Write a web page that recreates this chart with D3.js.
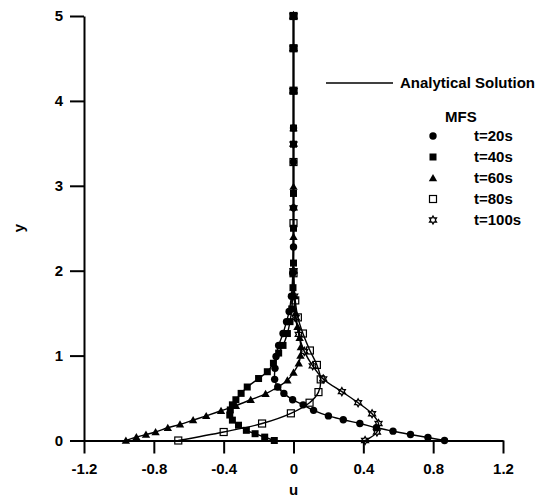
<!DOCTYPE html>
<html lang="en">
    <head>
        <meta charset="utf-8">
        <title>u profiles</title>
        <style>
            body { margin: 0; background: white; }
            svg { display: block; }
            text { font-family: "Liberation Sans", Arial, sans-serif; font-weight: bold; font-size: 15px; fill: black; }
            .axis path, .axis line { stroke: black; stroke-width: 2px; }
            .curve { fill: none; stroke: black; stroke-width: 1.4px; }
        </style>
    </head>
    <body>
        <svg width="550" height="497"></svg>
        <script src="https://d3js.org/d3.v7.min.js"></script>
        <script>
            // tick labels
            var xTicks = [-1.2, -0.8, -0.4, 0, 0.4, 0.8, 1.2];
            var yTicks = [0, 1, 2, 3, 4, 5];

            // MFS results, [u, y]
            var t20 = [[0.865,0],[0.77,0.035],[0.67,0.07],[0.57,0.11],[0.475,0.15],[0.38,0.2],[0.285,0.245],[0.2,0.29],
                       [0.115,0.355],[0.055,0.42],[-0.005,0.48],[-0.055,0.555],[-0.09,0.63],[-0.108,0.72],[-0.106,0.85],
                       [-0.1,0.99],[-0.085,1.12],[-0.06,1.26],[-0.04,1.4],[-0.025,1.52],[-0.012,1.7],[-0.004,1.97],
                       [0,2.28],[0,2.74],[0,3.28],[0,3.68],[0,4.12],[0,4.62],[0,5]];
            var t40 = [[-0.11,0],[-0.165,0.04],[-0.22,0.08],[-0.27,0.12],[-0.315,0.18],[-0.35,0.24],[-0.365,0.3],
                       [-0.362,0.36],[-0.35,0.42],[-0.33,0.48],[-0.3,0.555],[-0.265,0.63],[-0.2,0.73],[-0.15,0.81],
                       [-0.115,0.91],[-0.085,1.03],[-0.06,1.12],[-0.035,1.26],[-0.02,1.4],[-0.01,1.55],[-0.003,1.8],
                       [0,2.09],[0,2.5],[0,2.91],[0,3.49],[0,3.68],[0,4.12],[0,4.62],[0,5]];
            var t60 = [[-0.96,0],[-0.9,0.04],[-0.845,0.07],[-0.79,0.1],[-0.72,0.15],[-0.65,0.19],[-0.575,0.24],
                       [-0.5,0.29],[-0.415,0.35],[-0.33,0.41],[-0.245,0.48],[-0.16,0.55],[-0.09,0.63],[-0.035,0.71],
                       [0,0.8],[0.03,0.91],[0.04,1.0],[0.042,1.1],[0.035,1.21],[0.023,1.34],[0.012,1.5],[0.005,1.7],
                       [0,2.0],[0,2.4],[0,2.99],[0,3.68],[0,4.12],[0,4.62],[0,5]];
            var t80 = [[-0.66,0],[-0.4,0.1],[-0.18,0.2],[-0.015,0.32],[0.092,0.445],[0.143,0.57],[0.156,0.72],
                       [0.134,0.89],[0.094,1.06],[0.054,1.26],[0.025,1.45],[0.01,1.65],[0,1.97],[0,2.56],[0,3.28],
                       [0,4.12],[0,4.62],[0,5]];
            var t100 = [[0.41,0],[0.478,0.1],[0.487,0.2],[0.45,0.315],[0.37,0.445],[0.277,0.575],[0.17,0.725],
                        [0.11,0.88],[0.062,1.05],[0.03,1.25],[0.012,1.45],[0.004,1.7],[0,2.0],[0,2.74],[0,3.49],
                        [0,4.12],[0,4.62],[0,5]];

            var seriesNames = ["t=20s", "t=40s", "t=60s", "t=80s", "t=100s"];
            var seriesData = [t20, t40, t60, t80, t100];
            var seriesMarks = ["circle", "square", "triangle", "openSquare", "star"];

            var svg = d3.select("svg");

            var x = d3.scaleLinear().domain([-1.2, 1.2]).range([84, 503]);
            var y = d3.scaleLinear().domain([0, 5]).range([440.5, 16]);

            // axes
            svg.append("g")
                .attr("class", "axis")
                .attr("transform", "translate(0," + y(0) + ")")
                .call(d3.axisBottom(x).tickValues(xTicks).tickSize(13).tickSizeOuter(0).tickPadding(10)
                    .tickFormat(function(d) { return d.toString(); }))
                .call(function(g) { g.selectAll("text").attr("font-size", null).attr("font-family", null); });

            svg.append("g")
                .attr("class", "axis")
                .attr("transform", "translate(" + x(-1.2) + ",0)")
                .call(d3.axisLeft(y).tickValues(yTicks).tickSize(14).tickSizeOuter(0).tickPadding(7)
                    .tickFormat(function(d) { return d.toString(); }))
                .call(function(g) { g.selectAll("text").attr("font-size", null).attr("font-family", null); });

            svg.append("text")
                .attr("x", x(0))
                .attr("y", 495)
                .attr("text-anchor", "middle")
                .text("u");

            svg.append("text")
                .attr("transform", "translate(24,228)rotate(-90)")
                .attr("text-anchor", "middle")
                .text("y");

            // analytical curves
            var line = d3.line()
                .x(function(d) { return x(d[0]); })
                .y(function(d) { return y(d[1]); })
                .curve(d3.curveCatmullRom.alpha(0.5));

            svg.append("g").selectAll("path")
                .data(seriesData)
                .enter().append("path")
                .attr("class", "curve")
                .attr("d", line);

            // markers
            function starPath(ro, ri) {
                var p = [];
                for (var i = 0; i < 12; i++) {
                    var a = Math.PI * i / 6 - Math.PI / 2;
                    var r = i % 2 ? ri : ro;
                    p.push([r * Math.cos(a), r * Math.sin(a)]);
                }
                return "M" + p.join("L") + "Z";
            }

            function drawMark(g, kind, cx, cy, bg) {
                if (kind == "circle") {
                    g.append("circle").attr("cx", cx).attr("cy", cy).attr("r", 3.7).attr("fill", "black");
                } else if (kind == "square") {
                    g.append("rect").attr("x", cx - 3.5).attr("y", cy - 3.5).attr("width", 7).attr("height", 7).attr("fill", "black");
                } else if (kind == "triangle") {
                    g.append("path").attr("d", "M" + cx + "," + (cy - 4) + "L" + (cx + 4.2) + "," + (cy + 3.2) + "L" + (cx - 4.2) + "," + (cy + 3.2) + "Z").attr("fill", "black");
                } else if (kind == "openSquare") {
                    g.append("rect").attr("x", cx - 3.5).attr("y", cy - 3.5).attr("width", 7).attr("height", 7)
                        .attr("fill", bg).attr("stroke", "black").attr("stroke-width", 1.2);
                } else {
                    g.append("path").attr("d", starPath(4, 2.3)).attr("transform", "translate(" + cx + "," + cy + ")")
                        .attr("fill", bg).attr("stroke", "black").attr("stroke-width", 1.3);
                }
            }

            var marks = svg.append("g");
            seriesData.forEach(function(s, i) {
                s.forEach(function(d) { drawMark(marks, seriesMarks[i], x(d[0]), y(d[1]), "none"); });
            });

            // legend
            var legend = svg.append("g");
            legend.append("line")
                .attr("x1", 326).attr("x2", 393).attr("y1", 83).attr("y2", 83)
                .attr("stroke", "black").attr("stroke-width", 1.5);
            legend.append("text").attr("x", 400).attr("y", 88).text("Analytical Solution");
            legend.append("text").attr("x", 445).attr("y", 122).text("MFS");
            seriesNames.forEach(function(name, i) {
                var cy = 136 + i * 21;
                drawMark(legend, seriesMarks[i], 433, cy, "white");
                legend.append("text").attr("x", 474).attr("y", cy + 5).text(name);
            });
        </script>
    </body>
</html>
